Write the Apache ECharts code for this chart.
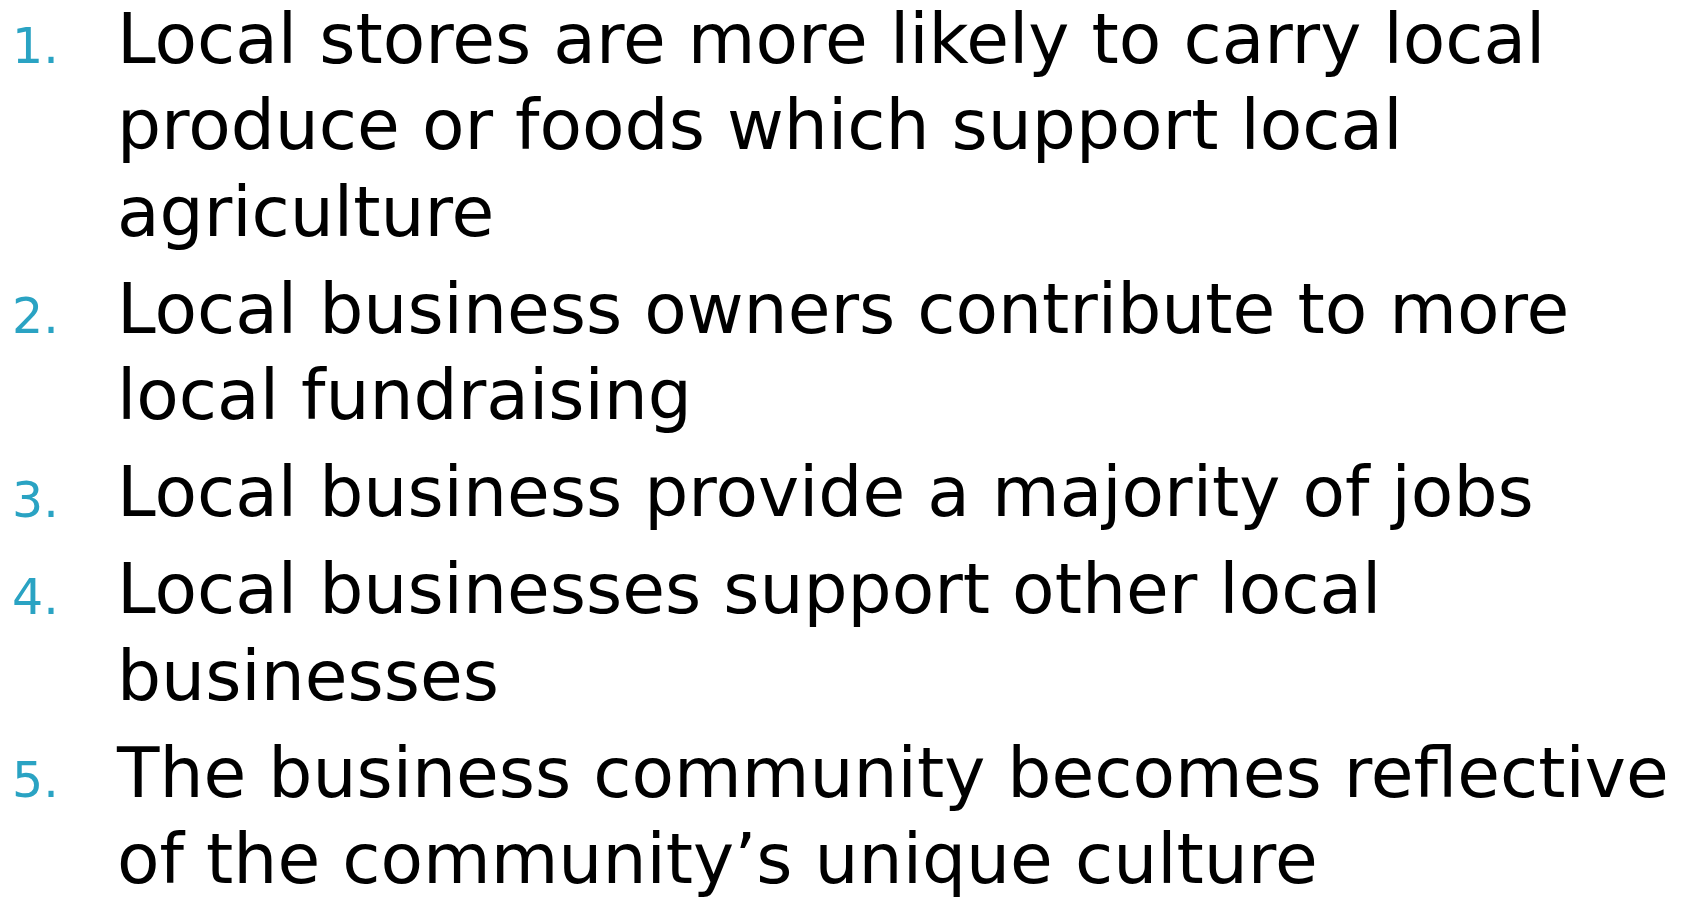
<!DOCTYPE html>
<html>
<head>
<meta charset="utf-8">
<title>Local business benefits</title>
<script src="https://cdn.jsdelivr.net/npm/echarts@6/dist/echarts.min.js"></script>
<style>
  html, body { margin: 0; padding: 0; background: #fff; }
  #chart { width: 1682px; height: 897px; }
</style>
</head>
<body>
<div id="chart"></div>
<script>
// list numbers and the wrapped lines of each item, as on the slide
const itemNumbers = ['1.', '2.', '3.', '4.', '5.']
const itemLines = [
  ['Local stores are more likely to carry local', 'produce or foods which support local', 'agriculture'],
  ['Local business owners contribute to more', 'local fundraising'],
  ['Local business provide a majority of jobs'],
  ['Local businesses support other local', 'businesses'],
  ['The business community becomes reflective', 'of the community\u2019s unique culture']
]

const chart = echarts.init(document.getElementById('chart'))

// layout
const fontFamily = '"DejaVu Sans", sans-serif'
const textSize = 69.5
const numSize = 49
const textLeft = 117
const numLeft = 12
const firstBaseline = 63
const lineStep = 86.5
const itemGap = 10.5

const elements = []
let baseline = firstBaseline
itemLines.forEach((lines, i) => {
  elements.push({
    type: 'text',
    style: {
      text: itemNumbers[i],
      x: numLeft,
      y: baseline - 0.3 * numSize + 2,
      font: numSize + 'px ' + fontFamily,
      fill: '#2aa3c3',
      verticalAlign: 'middle'
    }
  })
  lines.forEach((line, j) => {
    elements.push({
      type: 'text',
      style: {
        text: line,
        x: textLeft,
        y: baseline - 0.3 * textSize + 2.5,
        font: textSize + 'px ' + fontFamily,
        fill: '#000',
        verticalAlign: 'middle'
      }
    })
    if (j < lines.length - 1) baseline += lineStep
  })
  baseline += lineStep + itemGap
})

const option = {
  backgroundColor: '#fff',
  animation: false,
  graphic: { elements: elements }
}

chart.setOption(option)

window.addEventListener('resize', () => {
  chart.resize()
})
</script>
</body>
</html>
